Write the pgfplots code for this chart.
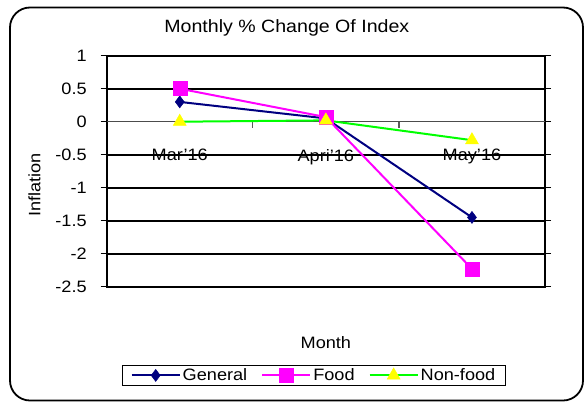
\documentclass[border=0pt]{standalone}
\usepackage{fontspec}
\setmainfont{Liberation Sans}[FakeStretch=1.1]
\usepackage{pgfplots}
\pgfplotsset{compat=1.18}
\definecolor{gnavy}{RGB}{0,0,128}
\definecolor{fmag}{RGB}{255,0,255}
\definecolor{ngreen}{RGB}{0,255,0}
\definecolor{nyellow}{RGB}{255,255,0}
\newcommand\cf{\fontsize{16.5pt}{19pt}\selectfont}
\newcommand\tf{\fontsize{17.8pt}{20pt}\selectfont}
\begin{document}
\begin{tikzpicture}
\useasboundingbox (0pt,0pt) rectangle (586pt,-402pt);
\draw[line width=1.8pt, rounded corners=20pt] (10pt,-7.5pt) rectangle (583pt,-400.5pt);
\begin{axis}[
  at={(106.7pt,-286.7pt)}, anchor=south west,
  scale only axis, width=438.3pt, height=231pt,
  xmin=0, xmax=3, ymin=-2.5, ymax=1,
  xtick={0.5,1.5,2.5},
  xticklabels={Mar'16,Apri'16,May'16},
  ytick={-2.5,-2,-1.5,-1,-0.5,0.5,1},
  extra y ticks={0},
  extra y tick style={major grid style={draw=gray!60!black, line width=1.3pt}},
  /pgf/number format/assume math mode=true,
  ymajorgrids=true,
  major grid style={draw=black, line width=1.7pt},
  axis line style={draw=black, line width=1.7pt},
  tick align=outside,
  major tick length=6pt,
  x tick style={draw=none},
  y tick style={draw=black, line width=1pt},
  yticklabel style={font=\cf, xshift=-10.5pt},
  xticklabel style={font=\cf, yshift=147pt},
  title={Monthly \% Change Of Index},
  title style={font=\tf, at={(rel axis cs:0.411,1.096)}, anchor=center},
  xlabel={Month},
  xlabel style={font=\cf, at={(rel axis cs:0.5,-0.244)}, anchor=center},
  ylabel={Inflation},
  ylabel style={font=\cf, at={(rel axis cs:-0.165,0.44)}, anchor=center, rotate=0},
  legend columns=3,
  legend style={at={(rel axis cs:0.473,-0.384)}, anchor=center, draw=black, line width=0.8pt,
    font=\cf, inner xsep=8pt, inner ysep=1pt,
    /tikz/every even column/.append style={column sep=12pt}},
  legend image code/.code={\draw[mark repeat=2,mark phase=2,#1] plot coordinates {(0pt,0pt)(24pt,0pt)(48pt,0pt)};},
  clip=false,
]
\draw[gray!70!black, line width=1.2pt] (axis cs:1,0) -- ++(0pt,-6pt);
\draw[gray!70!black, line width=1.2pt] (axis cs:2,0) -- ++(0pt,-6pt);
\addplot[gnavy, line width=2pt, mark=diamond*, mark size=6pt, mark options={fill=gnavy, draw=gnavy, line width=0.5pt}]
  coordinates {(0.5,0.30) (1.5,0.05) (2.5,-1.45)};
\addlegendentry{General}
\addplot[fmag, line width=2pt, mark=square*, mark size=7pt, mark options={fill=fmag, draw=fmag, line width=0.5pt}]
  coordinates {(0.5,0.50) (1.5,0.07) (2.5,-2.23)};
\addlegendentry{Food}
\addplot[ngreen, line width=2pt, mark=triangle*, mark size=7.5pt, mark options={fill=nyellow, draw=nyellow, line width=0.5pt}]
  coordinates {(0.5,0.00) (1.5,0.02) (2.5,-0.28)};
\addlegendentry{Non-food}
\end{axis}
\end{tikzpicture}
\end{document}
